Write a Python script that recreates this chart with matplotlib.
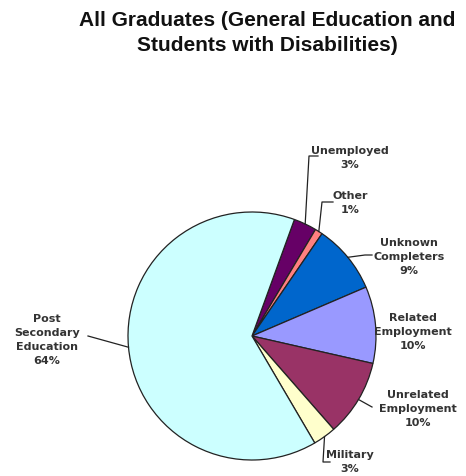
import numpy as np
import matplotlib
matplotlib.use("Agg")
import matplotlib.pyplot as plt

# slices, clockwise from the top
categories = ["Unemployed", "Other", "Unknown\nCompleters", "Related\nEmployment",
              "Unrelated\nEmployment", "Military", "Post\nSecondary\nEducation"]
shares = [3, 1, 9, 10, 10, 3, 64]
colors = ["#660066", "#FF8080", "#0066CC", "#9999FF", "#993366", "#FFFFCC", "#CCFFFF"]

W, H = 466, 477
fig = plt.figure(figsize=(W / 100, H / 100), dpi=100)
ax = fig.add_axes([0, 0, 1, 1])

cx, cy, r = 252, H - 337, 124
wedges, _ = ax.pie(shares, colors=colors, startangle=70, counterclock=False,
                   center=(cx, cy), radius=r, frame=True,
                   wedgeprops=dict(edgecolor="#222222", linewidth=0.9))
ax.set_xlim(0, W)
ax.set_ylim(0, H)
ax.set_aspect("equal")
ax.axis("off")

fig.text(267 / W, 1 - 33 / H, "All Graduates (General Education and\nStudents with Disabilities)",
         ha="center", va="center", fontsize=15, fontweight="bold",
         family="Liberation Sans", linespacing=1.45, color="#111111")

# label text centre (pixel, y down) and leader path after the wedge edge point
label_pos = [(350, 158), (350, 203), (409, 257), (413, 332), (418, 409), (350, 462), (47, 340)]
leaders = [
    [(309, 157), (318, 157)],
    [(322, 203), (333, 203)],
    [(365, 256), (372, 256)],
    None,
    [(372, 408)],
    [(323, 463), (330, 463)],
    [(88, 337)],
]

for w, lab, val, pos, path in zip(wedges, categories, shares, label_pos, leaders):
    ax.text(pos[0], H - pos[1], f"{lab}\n{val}%", ha="center", va="center",
            fontsize=8, fontweight="bold", family="DejaVu Sans",
            color="#333333", linespacing=1.5)
    if path is None:
        continue
    mid = np.deg2rad((w.theta1 + w.theta2) / 2)
    xs = [cx + r * np.cos(mid)] + [p[0] for p in path]
    ys = [cy + r * np.sin(mid)] + [H - p[1] for p in path]
    ax.plot(xs, ys, color="#222222", linewidth=0.9)

fig.savefig("out.png", dpi=100, facecolor="white")
